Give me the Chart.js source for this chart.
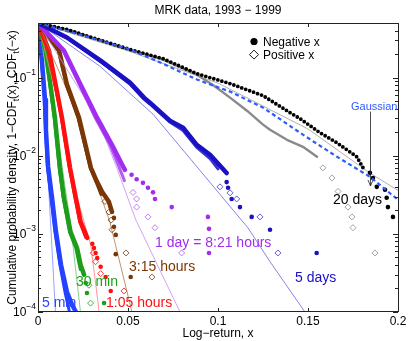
<!DOCTYPE html>
<html>
<head>
<meta charset="utf-8">
<script src="https://cdn.jsdelivr.net/npm/chart.js@4.4.1/dist/chart.umd.min.js"></script>
<style>
  html, body { margin: 0; padding: 0; background: #fff; }
  #wrap { width: 410px; height: 341px; }
</style>
</head>
<body>
<div id="wrap"><canvas id="chart" width="410" height="341"></canvas></div>
<script>
const FONT = "'Liberation Sans', Arial, Helvetica, sans-serif";

const xTicks = [0, 0.05, 0.1, 0.15, 0.2];
const xTickLabels = ['0', '0.05', '0.1', '0.15', '0.2'];
const yDecades = [1e-4, 1e-3, 1e-2, 1e-1];
const yDecadeExp = ['\u22124', '\u22123', '\u22122', '\u22121'];

// 5 min
const min5NegBand = [[0, 0.5], [0.0017, 0.222], [0.0028, 0.109], [0.0039, 0.0522], [0.0044, 0.0215], [0.0056, 0.0073], [0.0078, 0.0029], [0.01, 0.00106], [0.0128, 0.0004], [0.0161, 0.00018], [0.0189, 0.000124], [0.0211, 0.0001]];
const min5NegTail = [];
const min5PosBand = [[0, 0.5], [0.0015, 0.222], [0.0026, 0.109], [0.0037, 0.0522], [0.0042, 0.0215], [0.0052, 0.0073], [0.0072, 0.0029], [0.0094, 0.00106], [0.0122, 0.0004], [0.015, 0.00018], [0.0175, 0.0001]];
const min5PosTail = [];
const min5Fit = [[0, 0.5], [0.0025, 0.06], [0.0052, 0.0077], [0.0097, 0.0001]];

// 30 min
const min30NegBand = [[0, 0.5], [0.0043, 0.222], [0.0094, 0.0307], [0.0122, 0.007], [0.0144, 0.0029], [0.0181, 0.00106], [0.0217, 0.00066], [0.0237, 0.0004], [0.0256, 0.0003]];
const min30NegTail = [[0.0265, 0.000235], [0.0272, 0.000175], [0.0367, 0.00013]];
const min30PosBand = [[0, 0.5], [0.0041, 0.222], [0.009, 0.0307], [0.0118, 0.007], [0.014, 0.0029], [0.0175, 0.00106], [0.021, 0.00066], [0.0235, 0.00035]];
const min30PosTail = [[0.0283, 0.00022], [0.0292, 0.00013]];
const min30Fit = [[0, 0.5], [0.0094, 0.0307], [0.0178, 0.0015], [0.0236, 0.0001]];

// 1:05 hours
const h105NegBand = [[0, 0.5], [0.0061, 0.222], [0.0098, 0.0813], [0.0133, 0.0307], [0.0178, 0.007], [0.021, 0.0029], [0.0237, 0.00142], [0.0274, 0.00089]];
const h105NegTail = [[0.0302, 0.000745], [0.0311, 0.00066], [0.032, 0.00057], [0.0329, 0.00049], [0.0348, 0.00038], [0.0376, 0.00028], [0.0404, 0.000186]];
const h105PosBand = [[0, 0.5], [0.0058, 0.222], [0.0095, 0.0813], [0.013, 0.0307], [0.0174, 0.007], [0.0206, 0.0029], [0.0232, 0.00142], [0.0265, 0.0009]];
const h105PosTail = [[0.0307, 0.00057], [0.032, 0.00044], [0.0348, 0.00031], [0.0478, 0.000186]];
const h105Fit = [[0, 0.5], [0.012, 0.04], [0.02, 0.004], [0.0293, 0.00072], [0.034, 0.0001]];

// 3:15 hours
const h315NegBand = [[0, 0.5], [0.0117, 0.222], [0.0161, 0.0813], [0.0228, 0.0307], [0.0294, 0.007], [0.0328, 0.00464], [0.0356, 0.00345], [0.0394, 0.00257], [0.0411, 0.00191]];
const h315NegTail = [[0.0422, 0.0016], [0.0422, 0.00123], [0.0432, 0.00097], [0.0432, 0.00055], [0.0515, 0.00028]];
const h315PosBand = [[0, 0.5], [0.0114, 0.222], [0.0158, 0.0813], [0.0222, 0.0307], [0.029, 0.007], [0.0325, 0.0045], [0.035, 0.0032]];
const h315PosTail = [[0.0372, 0.0026], [0.0395, 0.0019], [0.0406, 0.0015], [0.0411, 0.00113], [0.0489, 0.00057], [0.0633, 0.00028]];
const h315Fit = [[0, 0.5], [0.0228, 0.0307], [0.0294, 0.007], [0.04, 0.0014], [0.0522, 0.0001]];

// 1 day = 8:21 hours
const day1NegBand = [[0, 0.5], [0.0144, 0.222], [0.0237, 0.0813], [0.0328, 0.0307], [0.0411, 0.0138], [0.0467, 0.0077], [0.0483, 0.0066]];
const day1NegTail = [[0.052, 0.0057], [0.0548, 0.005], [0.0583, 0.0045], [0.0611, 0.0039], [0.0639, 0.0034], [0.065, 0.0028], [0.0743, 0.0022], [0.0944, 0.00165], [0.095, 0.00116], [0.095, 0.00057]];
const day1PosBand = [[0, 0.5], [0.014, 0.222], [0.023, 0.0813], [0.0318, 0.0307], [0.04, 0.0138], [0.0445, 0.0077], [0.048, 0.0048]];
const day1PosTail = [[0.0528, 0.0034], [0.0548, 0.0028], [0.0548, 0.0022], [0.0611, 0.00165], [0.065, 0.0012], [0.0798, 0.00057]];
const day1Fit = [[0, 0.5], [0.0328, 0.0307], [0.0433, 0.0075], [0.0544, 0.0015], [0.0789, 0.0001]];

// 5 days
const day5NegBand = [[0, 0.5], [0.0161, 0.326], [0.0348, 0.165], [0.0511, 0.0863], [0.0589, 0.0554], [0.0622, 0.0478], [0.0733, 0.0281], [0.0806, 0.0229], [0.0882, 0.0138], [0.0956, 0.0103], [0.1048, 0.006]];
const day5NegTail = [[0.1048, 0.0046], [0.1056, 0.0039], [0.1076, 0.0028], [0.1122, 0.0022], [0.1187, 0.00165], [0.1289, 0.00113], [0.1548, 0.00057]];
const day5PosBand = [[0, 0.5], [0.0161, 0.32], [0.0348, 0.16], [0.0511, 0.083], [0.0589, 0.053], [0.0622, 0.046], [0.0733, 0.027], [0.0806, 0.021], [0.0882, 0.0128], [0.0956, 0.0092], [0.1, 0.0068]];
const day5PosTail = [[0.1011, 0.004], [0.1067, 0.00335], [0.1104, 0.0028], [0.1233, 0.00165], [0.1333, 0.00057]];
const day5Fit = [[0, 0.5], [0.0344, 0.14], [0.0639, 0.034], [0.1167, 0.00119], [0.1289, 0.00044], [0.1483, 0.0001]];

// 20 days
const day20NegBand = [[0, 0.5], [0.0161, 0.412], [0.0511, 0.229], [0.0694, 0.175], [0.0882, 0.1125], [0.1067, 0.0838], [0.125, 0.0588], [0.14, 0.0356], [0.1456, 0.0298], [0.1567, 0.0197], [0.166, 0.0147], [0.1771, 0.0097], [0.1806, 0.007]];
const day20NegTail = [[0.1844, 0.00605], [0.1861, 0.0052], [0.1882, 0.004], [0.1928, 0.00367], [0.1937, 0.0029], [0.1944, 0.0022], [0.1972, 0.00165]];
const day20PosBand = [[0, 0.5], [0.0161, 0.41], [0.0511, 0.225], [0.0694, 0.17], [0.0883, 0.109], [0.0972, 0.0806], [0.1067, 0.0554], [0.1161, 0.0377], [0.125, 0.025], [0.1289, 0.0215], [0.1383, 0.016], [0.1472, 0.013], [0.155, 0.0097]];
const day20PosTail = [[0.1583, 0.007], [0.1633, 0.0052], [0.1667, 0.0035], [0.1722, 0.0022], [0.1744, 0.00165], [0.175, 0.0012], [0.1872, 0.00057]];
const day20Fit = [[0, 0.5], [0.05, 0.22], [0.1, 0.085], [0.15, 0.022], [0.1844, 0.006], [0.2, 0.0036]];

// Gaussian
const gaussian = [[0, 0.5], [0.0289, 0.326], [0.0511, 0.229], [0.0694, 0.151], [0.0883, 0.0943], [0.1067, 0.0662], [0.125, 0.0413], [0.1472, 0.0186], [0.1661, 0.0097], [0.1844, 0.00538], [0.2, 0.00273]];

const lags = [
    { negBand: day20NegBand, negTail: day20NegTail, posBand: day20PosBand, posTail: day20PosTail, fit: day20Fit, color: '#000000', posColor: '#8a8a8a', fitColor: '#9a9a9a', negDash: [0, 4.2], negWidth: 3.8, posWidth: 2.4 },
    { negBand: day5NegBand, negTail: day5NegTail, posBand: day5PosBand, posTail: day5PosTail, fit: day5Fit, color: '#1a10c4', posColor: '#3a34cc', fitColor: '#6a66e0' },
    { negBand: day1NegBand, negTail: day1NegTail, posBand: day1PosBand, posTail: day1PosTail, fit: day1Fit, color: '#a22cf0', posColor: '#b45cf2', fitColor: '#c58cf6' },
    { negBand: h315NegBand, negTail: h315NegTail, posBand: h315PosBand, posTail: h315PosTail, fit: h315Fit, color: '#7a3705', posColor: '#7a3705', fitColor: '#a87850' },
    { negBand: h105NegBand, negTail: h105NegTail, posBand: h105PosBand, posTail: h105PosTail, fit: h105Fit, color: '#ff1010', posColor: '#ff1010', fitColor: '#ff7a7a' },
    { negBand: min30NegBand, negTail: min30NegTail, posBand: min30PosBand, posTail: min30PosTail, fit: min30Fit, color: '#1c9e1c', posColor: '#1c9e1c', fitColor: '#6cc46c' },
    { negBand: min5NegBand, negTail: min5NegTail, posBand: min5PosBand, posTail: min5PosTail, fit: min5Fit, color: '#2442ff', posColor: '#2442ff', fitColor: '#7c8cff' },
];

// labels placed in data coordinates (left edge, vertical middle)
const notes = [
    { text: '5 min', x: 0.0022, y: 1.3e-4, color: '#2442ff', size: 14 },
    { text: '30 min', x: 0.0211, y: 2.43e-4, color: '#1c9e1c', size: 14 },
    { text: '1:05 hours', x: 0.0378, y: 1.3e-4, color: '#ff1010', size: 14 },
    { text: '3:15 hours', x: 0.0506, y: 3.78e-4, color: '#7a3705', size: 14 },
    { text: '1 day = 8:21 hours', x: 0.065, y: 7.67e-4, color: '#a22cf0', size: 14 },
    { text: '5 days', x: 0.1428, y: 2.73e-4, color: '#1a10c4', size: 14 },
    { text: '20 days', x: 0.1639, y: 2.73e-3, color: '#000000', size: 14 },
    { text: 'Gaussian', x: 0.1739, y: 0.0425, color: '#2d5cff', size: 11 },
];

const datasets = [
    {
        data: gaussian,
        showLine: true,
        borderColor: '#2d5cff',
        borderWidth: 2.2,
        borderDash: [4, 3],
        pointRadius: 0,
    },
];
for (const l of lags) {
    datasets.push(
        {
            data: l.negTail,
            showLine: false,
            pointStyle: 'circle',
            pointRadius: 2.3,
            borderWidth: 0,
            backgroundColor: l.color,
        },
        {
            data: l.posTail,
            showLine: false,
            pointStyle: 'rectRot',
            pointRadius: 3,
            borderWidth: 0.8,
            borderColor: l.posColor,
            backgroundColor: 'rgba(255,255,255,0)',
        },
        {
            data: l.negBand,
            showLine: true,
            borderColor: l.color,
            borderWidth: l.negWidth || 4.5,
            borderDash: l.negDash || [],
            borderJoinStyle: 'round',
            borderCapStyle: 'round',
            pointRadius: 0,
        },
        {
            data: l.posBand,
            showLine: true,
            borderColor: l.posColor,
            borderWidth: l.posWidth || 3,
            borderJoinStyle: 'round',
            borderCapStyle: 'round',
            pointRadius: 0,
        },
        {
            data: l.fit,
            showLine: true,
            borderColor: l.fitColor,
            borderWidth: 0.8,
            pointRadius: 0,
        },
    );
}

function drawRich(ctx, parts, x, y, align) {
    // parts: [text, size, dy]
    let total = 0;
    for (const [t, s] of parts) {
        ctx.font = s + 'px ' + FONT;
        total += ctx.measureText(t).width;
    }
    let cx = align === 'center' ? x - total / 2 : align === 'right' ? x - total : x;
    for (const [t, s, dy] of parts) {
        ctx.font = s + 'px ' + FONT;
        ctx.textAlign = 'left';
        ctx.fillText(t, cx, y + dy);
        cx += ctx.measureText(t).width;
    }
}

const decor = {
    id: 'decor',
    afterDraw(chart) {
        const { ctx, chartArea: a, scales: { x, y } } = chart;
        ctx.save();
        ctx.fillStyle = '#000';
        ctx.strokeStyle = '#222';
        ctx.lineWidth = 1;

        // frame
        ctx.strokeRect(a.left + 0.5, a.top + 0.5, a.right - a.left, a.bottom - a.top - 1);

        // y ticks (inside, both sides)
        ctx.beginPath();
        for (let k = -4; k <= -1; k++) {
            for (let m = 1; m <= 9; m++) {
                const v = m * Math.pow(10, k);
                if (v > 0.5) continue;
                const py = Math.round(y.getPixelForValue(v)) + 0.5;
                const len = m === 1 ? 5 : 3;
                ctx.moveTo(a.left, py); ctx.lineTo(a.left + len, py);
                ctx.moveTo(a.right, py); ctx.lineTo(a.right - len, py);
            }
        }
        // x ticks
        for (const v of xTicks) {
            const px = Math.round(x.getPixelForValue(v)) + 0.5;
            ctx.moveTo(px, a.bottom); ctx.lineTo(px, a.bottom - 4);
            ctx.moveTo(px, a.top); ctx.lineTo(px, a.top + 4);
        }
        ctx.stroke();

        // y tick labels
        ctx.textBaseline = 'middle';
        yDecades.forEach((v, i) => {
            const py = y.getPixelForValue(v);
            drawRich(ctx, [['10', 12, 1], [yDecadeExp[i], 8.5, -5]], a.left - 2, py, 'right');
        });

        // x tick labels
        ctx.font = '12px ' + FONT;
        ctx.textAlign = 'center';
        xTicks.forEach((v, i) => {
            ctx.fillText(xTickLabels[i], x.getPixelForValue(v), a.bottom + 10);
        });

        // axis titles
        ctx.fillText('Log\u2212return, x', (a.left + a.right) / 2, a.bottom + 22);
        ctx.font = '12px ' + FONT;
        ctx.fillText('MRK data, 1993 \u2212 1999', (a.left + a.right) / 2, 11);

        ctx.save();
        ctx.translate(13, (a.top + a.bottom) / 2);
        ctx.rotate(-Math.PI / 2);
        drawRich(ctx, [
            ['Cumulative probability density, 1\u2212CDF', 12, 0],
            ['t', 8.5, 4],
            ['(x), CDF', 12, 0],
            ['t', 8.5, 4],
            ['(\u2212x)', 12, 0],
        ], 0, 0, 'center');
        ctx.restore();

        // series labels
        ctx.textBaseline = 'middle';
        for (const n of notes) {
            ctx.font = n.size + 'px ' + FONT;
            ctx.textAlign = 'left';
            ctx.fillStyle = n.color;
            ctx.fillText(n.text, x.getPixelForValue(n.x), y.getPixelForValue(n.y));
        }

        // arrow from Gaussian label
        const ax = Math.round(x.getPixelForValue(0.1844)) + 0.5;
        const ay0 = y.getPixelForValue(0.0367);
        const ay1 = y.getPixelForValue(0.0041);
        ctx.strokeStyle = '#222';
        ctx.lineWidth = 0.8;
        ctx.beginPath();
        ctx.moveTo(ax, ay0); ctx.lineTo(ax, ay1);
        ctx.moveTo(ax - 2.5, ay1 - 6); ctx.lineTo(ax, ay1); ctx.lineTo(ax + 2.5, ay1 - 6);
        ctx.stroke();

        // legend
        const lx = x.getPixelForValue(0.12);
        const ly1 = y.getPixelForValue(0.29);
        const ly2 = y.getPixelForValue(0.197);
        ctx.fillStyle = '#000';
        ctx.beginPath();
        ctx.arc(lx, ly1, 3.6, 0, Math.PI * 2);
        ctx.fill();
        ctx.strokeStyle = '#000';
        ctx.lineWidth = 0.9;
        ctx.beginPath();
        ctx.moveTo(lx, ly2 - 4.5); ctx.lineTo(lx + 4.5, ly2); ctx.lineTo(lx, ly2 + 4.5); ctx.lineTo(lx - 4.5, ly2); ctx.closePath();
        ctx.stroke();
        ctx.font = '12px ' + FONT;
        ctx.textAlign = 'left';
        ctx.fillText('Negative x', lx + 9, ly1 + 1);
        ctx.fillText('Positive x', lx + 9, ly2 + 1);

        ctx.restore();
    },
};

new Chart(document.getElementById('chart'), {
    type: 'scatter',
    data: { datasets },
    options: {
        responsive: false,
        animation: false,
        events: [],
        devicePixelRatio: 1,
        layout: { padding: { left: 0, right: 12, top: 23, bottom: 0 } },
        plugins: { legend: { display: false }, tooltip: { enabled: false } },
        scales: {
            x: {
                type: 'linear',
                min: 0,
                max: 0.2,
                ticks: { display: false },
                grid: { display: false },
                border: { display: false },
                afterFit(s) { s.height = 29; },
            },
            y: {
                type: 'logarithmic',
                min: 1e-4,
                max: 0.5,
                ticks: { display: false },
                grid: { display: false },
                border: { display: false },
                afterFit(s) { s.width = 38; },
            },
        },
    },
    plugins: [decor],
});
</script>
</body>
</html>
